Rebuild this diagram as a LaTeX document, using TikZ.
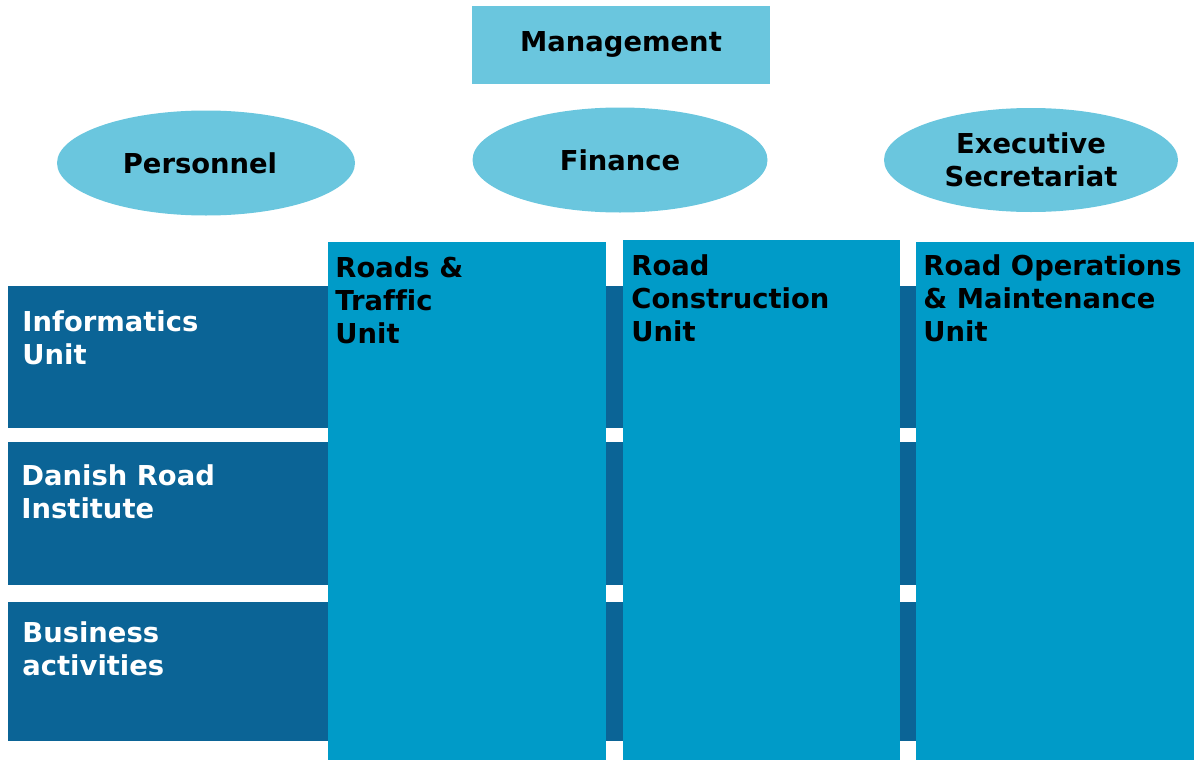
\documentclass[tikz,border=0pt]{standalone}
\usepackage{fontspec}
\setmainfont{DejaVu Sans}[Ligatures=CommonOff]
\usetikzlibrary{shapes.geometric}
\definecolor{lightbox}{RGB}{106,198,222}
\definecolor{colblue}{RGB}{0,155,200}
\definecolor{rowblue}{RGB}{11,100,150}
\tikzset{
  txt/.style={font=\fontsize{13.7}{16.5}\selectfont\bfseries, inner sep=0pt, align=left},
  topbox/.style={fill=lightbox, draw=none, inner sep=0pt, txt, align=center},
  oval/.style={ellipse, fill=lightbox, draw=none, inner sep=0pt, txt, align=center,
    minimum width=148pt, minimum height=52.5pt},
  rowbox/.style={fill=rowblue, draw=none, inner sep=0pt, anchor=north west,
    minimum width=593pt, minimum height=70.5pt},
  colbox/.style={fill=colblue, draw=none, inner sep=0pt, anchor=north west,
    minimum width=139pt, minimum height=259pt},
  rowtxt/.style={txt, text=white, anchor=north west},
  coltxt/.style={txt, text=black, anchor=north west},
}
\begin{document}
\begin{tikzpicture}[x=0.5pt, y=-0.5pt]
\useasboundingbox (0,0) rectangle (1194,760);
% top
\node[topbox, minimum width=149pt, minimum height=39pt] (mgmt) at (621,45) {\raisebox{3.5pt}{Management}};
\node[oval, minimum width=149pt] (pers) at (206,163) {\hspace*{-6pt}Personnel};
\node[oval, minimum width=147.5pt] (fin) at (620,160) {Finance};
\node[oval, minimum width=147pt, minimum height=52pt] (exec) at (1031,160) {Executive\\Secretariat};
% rows
\node[rowbox, minimum height=71pt] (row1) at (8,286) {};
\node[rowbox, minimum height=71.5pt] (row2) at (8,442) {};
\node[rowbox, minimum height=69.5pt] (row3) at (8,602) {};
% columns
\node[colbox] (col1) at (328,242) {};
\node[colbox, minimum width=138.5pt, minimum height=260pt] (col2) at (623,240) {};
\node[colbox] (col3) at (916,242) {};
% row texts
\node[rowtxt] (t1) at (22,310) {Informatics\\Unit};
\node[rowtxt] (t2) at (21,464) {Danish Road\\Institute};
\node[rowtxt] (t3) at (22,621) {Business\\activities};
% column texts
\node[coltxt] (c1t) at (335,256) {Roads \&\\Traffic\\Unit};
\node[coltxt] (c2t) at (631,254) {Road\\Construction\\Unit};
\node[coltxt] (c3t) at (923,254) {Road Operations\\\& Maintenance\\Unit};
\end{tikzpicture}
\end{document}
